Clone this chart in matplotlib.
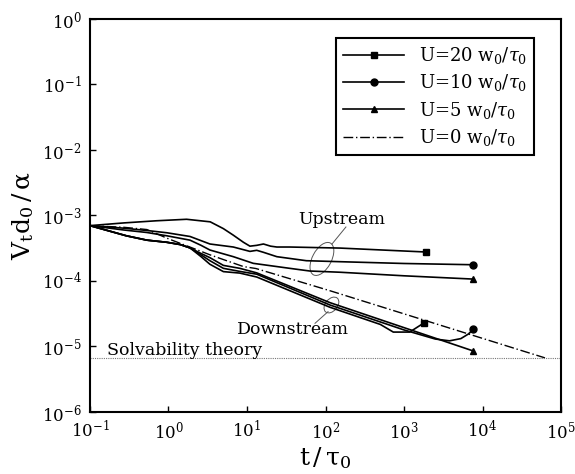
import matplotlib
matplotlib.use("Agg")
import matplotlib.pyplot as plt
from matplotlib.lines import Line2D
from matplotlib.patches import Ellipse
from matplotlib.transforms import IdentityTransform

plt.rcParams['font.family'] = ['DejaVu Serif']
plt.rcParams['mathtext.fontset'] = 'dejavuserif'

# upstream branches
t_up20 = [0.1, 0.27, 0.7, 1.7, 3.4, 5.0, 6.7, 9.0, 10.9, 13.3, 16.2, 20, 24, 35, 153, 600, 1900]
v_up20 = [7.0e-4, 7.7e-4, 8.3e-4, 8.75e-4, 8.0e-4, 6.3e-4, 5.0e-4, 3.9e-4, 3.4e-4, 3.5e-4, 3.67e-4, 3.4e-4, 3.3e-4, 3.3e-4, 3.18e-4, 2.95e-4, 2.77e-4]

t_up10 = [0.1, 0.27, 0.53, 0.95, 1.88, 3.37, 6.7, 10.9, 13.3, 16.2, 24, 57, 153, 1000, 7640]
v_up10 = [7.0e-4, 6.4e-4, 5.9e-4, 5.45e-4, 4.78e-4, 3.67e-4, 3.3e-4, 2.83e-4, 2.94e-4, 2.74e-4, 2.35e-4, 2.04e-4, 1.97e-4, 1.85e-4, 1.77e-4]

t_up5 = [0.1, 0.27, 0.53, 0.95, 1.88, 2.6, 3.37, 6.7, 12.0, 35, 63, 153, 1000, 7500]
v_up5 = [7.0e-4, 6.0e-4, 5.5e-4, 4.9e-4, 4.2e-4, 3.5e-4, 2.97e-4, 2.35e-4, 1.86e-4, 1.56e-4, 1.42e-4, 1.36e-4, 1.2e-4, 1.07e-4]

# downstream branches
t_dn20 = [0.1, 0.29, 0.53, 0.95, 1.41, 1.88, 2.6, 3.37, 5.0, 8.1, 13.3, 114, 500, 730, 1180, 1815]
v_dn20 = [7.0e-4, 4.9e-4, 4.2e-4, 3.9e-4, 3.6e-4, 3.2e-4, 2.35e-4, 1.8e-4, 1.39e-4, 1.32e-4, 1.15e-4, 3.97e-5, 2.17e-5, 1.66e-5, 1.66e-5, 2.31e-5]

t_dn10 = [0.1, 0.29, 0.53, 0.95, 1.41, 1.88, 2.6, 3.37, 5.0, 8.1, 13.3, 114, 1000, 2500, 3800, 5300, 6600, 7640]
v_dn10 = [7.0e-4, 4.9e-4, 4.2e-4, 3.9e-4, 3.6e-4, 3.2e-4, 2.5e-4, 2.04e-4, 1.56e-4, 1.4e-4, 1.27e-4, 4.3e-5, 1.79e-5, 1.3e-5, 1.22e-5, 1.32e-5, 1.55e-5, 1.83e-5]

t_dn5 = [0.1, 0.29, 0.53, 0.95, 1.41, 1.88, 2.6, 3.37, 5.0, 8.1, 13.3, 114, 1000, 7500]
v_dn5 = [7.0e-4, 4.9e-4, 4.2e-4, 3.9e-4, 3.6e-4, 3.2e-4, 2.63e-4, 2.27e-4, 1.73e-4, 1.56e-4, 1.33e-4, 4.67e-5, 1.94e-5, 8.6e-6]

# U = 0
t_u0 = [0.1, 0.27, 0.53, 1.0, 2.0, 3.4, 4.5, 9.0, 13, 114, 1000, 62500]
v_u0 = [7.0e-4, 6.6e-4, 6.1e-4, 4.4e-4, 3.2e-4, 2.5e-4, 2.22e-4, 1.66e-4, 1.55e-4, 7.1e-5, 3.15e-5, 6.7e-6]

v_solv = 6.7e-6

labels = [r'U=20 w$_0$/$\tau_0$', r'U=10 w$_0$/$\tau_0$',
          r'U=5 w$_0$/$\tau_0$', r'U=0 w$_0$/$\tau_0$']

fig = plt.figure(figsize=(5.75, 4.74), dpi=100)
ax = fig.add_axes([0.1565, 0.1308, 0.8192, 0.8292])

ax.set_xscale('log')
ax.set_yscale('log')
ax.set_xlim(1e-1, 1e5)
ax.set_ylim(1e-6, 1e0)

lw = 1.2
for t, v, m in [(t_up20, v_up20, 's'), (t_dn20, v_dn20, 's'),
                (t_up10, v_up10, 'o'), (t_dn10, v_dn10, 'o'),
                (t_up5, v_up5, '^'), (t_dn5, v_dn5, '^')]:
    ax.plot(t, v, color='k', lw=lw, marker=m, markevery=[-1], ms=5)
ax.plot(t_u0, v_u0, color='k', lw=1.0, ls=(0, (7, 2, 1, 2)))
ax.axhline(v_solv, color='#777777', lw=0.8, ls=(0, (1, 1)))

ax.text(0.165, 7.29e-6, 'Solvability theory', fontsize=12.5, va='baseline', ha='left')
ax.text(44.7, 7.41e-4, 'Upstream', fontsize=12.5, va='baseline', ha='left')
ax.text(7.46, 1.55e-5, 'Downstream', fontsize=12.5, va='baseline', ha='left')

# ellipses marking the branch groups (sized in pixels)
for (tc, vc), w, h, ang in [((90, 2.17e-4), 36, 19, 62), ((119, 4.3e-5), 18, 12, 50)]:
    xc, yc = ax.transData.transform((tc, vc))
    ax.add_patch(Ellipse((xc, yc), w, h, angle=ang, transform=IdentityTransform(),
                         fill=False, lw=0.7, edgecolor='#555555'))
ax.plot([121, 182], [3.67e-4, 6.67e-4], color='#555555', lw=0.7)
ax.plot([107.7, 73.5], [3.4e-5, 2.26e-5], color='#555555', lw=0.7)

ax.set_xticks([1e-1, 1e0, 1e1, 1e2, 1e3, 1e4, 1e5])
ax.set_yticks([1e-6, 1e-5, 1e-4, 1e-3, 1e-2, 1e-1, 1e0])
ax.minorticks_off()
ax.tick_params(direction='in', length=4, width=1, labelsize=12, pad=6)
for s in ax.spines.values():
    s.set_linewidth(1.5)

ax.set_xlabel(r'$\mathrm{t\,/\,\tau_0}$', fontsize=18, labelpad=2)
ax.set_ylabel(r'$\mathrm{V_t d_0\,/\,\alpha}$', fontsize=18, labelpad=4)

handles = [Line2D([], [], color='k', lw=lw, marker='s', ms=5),
           Line2D([], [], color='k', lw=lw, marker='o', ms=5),
           Line2D([], [], color='k', lw=lw, marker='^', ms=5),
           Line2D([], [], color='k', lw=1.0, ls=(0, (7, 2, 1, 2)))]
leg = ax.legend(handles, labels, loc='upper right', bbox_to_anchor=(0.943, 0.952),
                borderaxespad=0, fontsize=13, handlelength=3.4, numpoints=1,
                fancybox=False, framealpha=1, edgecolor='k', labelspacing=0.35)
leg.get_frame().set_linewidth(1.5)

fig.savefig('out.png', dpi=100)
